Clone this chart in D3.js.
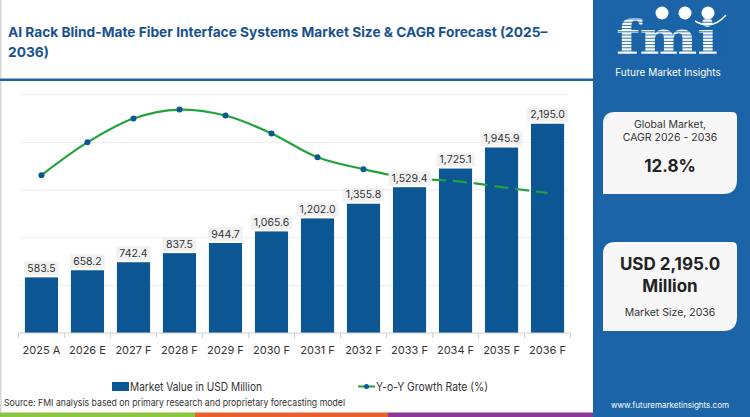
<!DOCTYPE html>
<html>
<head>
<meta charset="utf-8">
<script src="https://cdn.jsdelivr.net/npm/d3@7"></script>
<style>
  body { margin: 0; background: #fff; }
  svg { display: block; font-family: "Inter", "Noto Sans", sans-serif; }
</style>
</head>
<body>
<div id="chart"></div>
<script>
// chart data
var years = ["2025 A", "2026 E", "2027 F", "2028 F", "2029 F", "2030 F", "2031 F", "2032 F", "2033 F", "2034 F", "2035 F", "2036 F"];
var marketValue = [583.5, 658.2, 742.4, 837.5, 944.7, 1065.6, 1202.0, 1355.8, 1529.4, 1725.1, 1945.9, 2195.0];
var yoyGrowth = [13.3, 14.4, 15.2, 15.5, 15.3, 14.7, 13.9, 13.5, 13.2, 13.1, 12.9, 12.7];
var valueTicks = [0, 500, 1000, 1500, 2000, 2500];
var forecastFrom = "2033 F"; // line turns dashed after this year

var svgWidth = 750;
var svgHeight = 417;

var blue = "#0c5793";
var panelBlue = "#1a64a7";
var green = "#1fa33a";

var svg = d3.select("#chart")
  .append("svg")
  .attr("width", svgWidth)
  .attr("height", svgHeight);

// scales
var xScale = d3.scaleBand()
  .domain(years)
  .range([18, 571])
  .paddingInner(0.28)
  .paddingOuter(0.15);

var yScale = d3.scaleLinear()
  .domain([0, 2500])
  .range([333, 94.7]);

var yGrowth = d3.scaleLinear()
  .domain([8, 16])
  .range([333, 94.7]);

// title, sized so the first line ends near x=548
var title = svg.append("g").attr("fill", "#18528e").attr("font-weight", 700).attr("font-size", 17);
var t1 = title.append("text").attr("x", 8).attr("y", 37)
  .text("AI Rack Blind-Mate Fiber Interface Systems Market Size & CAGR Forecast (2025–");
var t2 = title.append("text").attr("x", 8).attr("y", 57).text("2036)");
var natural = t1.node().getComputedTextLength();
if (natural > 540) {
  var fs = 17 * 540 / natural;
  title.attr("font-size", fs);
}

// frame lines
svg.append("rect").attr("x", 0).attr("y", 0).attr("width", 1.5).attr("height", 413).attr("fill", "#d6d6d6");
svg.append("rect").attr("x", 0).attr("y", 78.5).attr("width", 593).attr("height", 2.5).attr("fill", panelBlue);

// gridlines
svg.append("g")
  .selectAll("line")
  .data(valueTicks.slice(1))
  .enter()
  .append("line")
  .attr("x1", 20).attr("x2", 568)
  .attr("y1", d => yScale(d)).attr("y2", d => yScale(d))
  .attr("stroke", "#ededed")
  .attr("stroke-width", 1);

// bars
svg.append("g")
  .selectAll("rect")
  .data(marketValue)
  .enter()
  .append("rect")
  .attr("x", (d, i) => xScale(years[i]))
  .attr("y", d => yScale(d))
  .attr("width", xScale.bandwidth())
  .attr("height", d => yScale(0) - yScale(d))
  .attr("fill", blue);

// x axis
var step = xScale.step();
var axisG = svg.append("g");
axisG.append("line")
  .attr("x1", xScale(years[0]) - xScale.step() * xScale.paddingOuter())
  .attr("x2", xScale(years[years.length - 1]) + xScale.bandwidth() + xScale.step() * xScale.paddingOuter())
  .attr("y1", yScale(0)).attr("y2", yScale(0))
  .attr("stroke", "#d0d0d0");
axisG.selectAll("line.tick")
  .data(years.concat(["end"]))
  .enter()
  .append("line")
  .attr("class", "tick")
  .attr("x1", (d, i) => xScale(years[0]) + xScale.bandwidth() / 2 - step / 2 + i * step)
  .attr("x2", (d, i) => xScale(years[0]) + xScale.bandwidth() / 2 - step / 2 + i * step)
  .attr("y1", yScale(0)).attr("y2", yScale(0) + 5)
  .attr("stroke", "#d0d0d0");
axisG.selectAll("text")
  .data(years)
  .enter()
  .append("text")
  .attr("x", d => xScale(d) + xScale.bandwidth() / 2)
  .attr("y", 354)
  .attr("text-anchor", "middle")
  .attr("font-size", 11)
  .attr("fill", "#333")
  .text(d => d);

// growth line, solid then dashed for forecast years
var splitX = xScale(forecastFrom) + xScale.bandwidth() / 2 + 20;
var defs = svg.append("defs");
defs.append("clipPath").attr("id", "clipSolid")
  .append("rect").attr("x", 0).attr("y", 0).attr("width", splitX).attr("height", svgHeight);
defs.append("clipPath").attr("id", "clipDash")
  .append("rect").attr("x", splitX).attr("y", 0).attr("width", svgWidth - splitX).attr("height", svgHeight);

var line = d3.line()
  .x((d, i) => xScale(years[i]) + xScale.bandwidth() / 2)
  .y(d => yGrowth(d))
  .curve(d3.curveCatmullRom.alpha(0.5));

svg.append("path")
  .datum(yoyGrowth)
  .attr("d", line)
  .attr("fill", "none")
  .attr("stroke", green)
  .attr("stroke-width", 2.2)
  .attr("clip-path", "url(#clipSolid)");

svg.append("path")
  .datum(yoyGrowth)
  .attr("d", line)
  .attr("fill", "none")
  .attr("stroke", green)
  .attr("stroke-width", 2.2)
  .attr("stroke-dasharray", "14,7")
  .attr("clip-path", "url(#clipDash)");

var lastDot = years.indexOf(forecastFrom);
svg.append("g")
  .selectAll("circle")
  .data(yoyGrowth.slice(0, lastDot))
  .enter()
  .append("circle")
  .attr("cx", (d, i) => xScale(years[i]) + xScale.bandwidth() / 2)
  .attr("cy", d => yGrowth(d))
  .attr("r", 3)
  .attr("fill", blue);

// value labels
var labels = svg.append("g")
  .selectAll("g")
  .data(marketValue)
  .enter()
  .append("g")
  .attr("transform", (d, i) => `translate(${xScale(years[i]) + xScale.bandwidth() / 2}, ${yScale(d) - 9})`);

labels.append("text")
  .attr("text-anchor", "middle")
  .attr("dy", "0.35em")
  .attr("font-size", 10.5)
  .attr("fill", "#333")
  .text(d => d3.format(",.1f")(d));

labels.each(function() {
  var g = d3.select(this);
  var bb = g.select("text").node().getBBox();
  g.insert("rect", "text")
    .attr("x", bb.x - 3)
    .attr("y", -7)
    .attr("width", bb.width + 6)
    .attr("height", 14)
    .attr("fill", "#f1f1f1");
});

// legend
var legend = svg.append("g").attr("font-size", 11.5).attr("fill", "#333");
legend.append("rect").attr("x", 112).attr("y", 382).attr("width", 17).attr("height", 9).attr("fill", blue);
legend.append("text").attr("x", 130).attr("y", 391)
  .attr("textLength", 132).attr("lengthAdjust", "spacingAndGlyphs")
  .text("Market Value in USD Million");
legend.append("line").attr("x1", 358).attr("x2", 375).attr("y1", 386.5).attr("y2", 386.5)
  .attr("stroke", green).attr("stroke-width", 2);
legend.append("circle").attr("cx", 366.5).attr("cy", 386.5).attr("r", 2.5).attr("fill", blue);
legend.append("text").attr("x", 376).attr("y", 391)
  .attr("textLength", 112).attr("lengthAdjust", "spacingAndGlyphs")
  .text("Y-o-Y Growth Rate (%)");

// source
svg.append("text")
  .attr("x", 4).attr("y", 406)
  .attr("font-size", 9.5)
  .attr("fill", "#333")
  .attr("textLength", 341).attr("lengthAdjust", "spacingAndGlyphs")
  .text("Source: FMI analysis based on primary research and proprietary forecasting model");

// bottom colour strip
var strip = [["#8cc63f", 0, 195], ["#e8612c", 195, 388], ["#8b3a98", 388, 593]];
svg.append("g").selectAll("rect")
  .data(strip)
  .enter()
  .append("rect")
  .attr("x", d => d[1]).attr("y", 412.5)
  .attr("width", d => d[2] - d[1]).attr("height", 4.5)
  .attr("fill", d => d[0]);

// right panel
var panel = svg.append("g");
panel.append("rect").attr("x", 593).attr("y", 0).attr("width", 157).attr("height", svgHeight).attr("fill", panelBlue);

// logo
var logo = panel.append("g");
logo.append("text")
  .attr("x", 667).attr("y", 54)
  .attr("text-anchor", "middle")
  .attr("font-family", "DejaVu Serif")
  .attr("font-weight", 700)
  .attr("font-size", 46)
  .attr("fill", "#fff")
  .attr("textLength", 102)
  .attr("lengthAdjust", "spacingAndGlyphs")
  .text("fmi");
d3.range(19, 56, 3.2).forEach(function(yy) {
  logo.append("line").attr("x1", 612).attr("x2", 725).attr("y1", yy).attr("y2", yy)
    .attr("stroke", panelBlue).attr("stroke-width", 0.9);
});
[[662, 13], [685, 13], [708, 13]].forEach(function(c) {
  logo.append("circle").attr("cx", c[0]).attr("cy", c[1]).attr("r", 6.5).attr("fill", "#fff");
});
logo.append("path")
  .attr("d", "M695,21 Q712,31 726,15")
  .attr("fill", "none").attr("stroke", "#fff").attr("stroke-width", 1.5);
logo.append("text")
  .attr("x", 668).attr("y", 76)
  .attr("text-anchor", "middle")
  .attr("font-size", 10)
  .attr("fill", "#fff")
  .text("Future Market Insights");

// cards
function card(y0, h) {
  var x0 = 603, w = 134;
  var p = d3.path();
  p.moveTo(x0, y0 + 12);
  p.quadraticCurveTo(x0, y0, x0 + 12, y0);
  p.lineTo(x0 + w - 5, y0);
  p.quadraticCurveTo(x0 + w, y0, x0 + w, y0 + 5);
  p.lineTo(x0 + w, y0 + h - 14);
  p.quadraticCurveTo(x0 + w, y0 + h, x0 + w - 14, y0 + h);
  p.lineTo(x0, y0 + h);
  p.closePath();
  panel.append("path").attr("d", p.toString()).attr("fill", "#f7f7f7");
}
card(112, 82);
card(242, 89);

var cards = panel.append("g").attr("text-anchor", "middle").attr("fill", "#222");
cards.append("text").attr("x", 670).attr("y", 127.5).attr("font-size", 10.5).attr("fill", "#333").text("Global Market,");
cards.append("text").attr("x", 670).attr("y", 140.5).attr("font-size", 10.5).attr("fill", "#333").text("CAGR 2026 - 2036");
cards.append("text").attr("x", 670).attr("y", 172).attr("font-size", 17).attr("font-weight", 700).text("12.8%");
cards.append("text").attr("x", 670).attr("y", 270).attr("font-size", 17).attr("font-weight", 700).text("USD 2,195.0");
cards.append("text").attr("x", 670).attr("y", 292).attr("font-size", 17).attr("font-weight", 700).text("Million");
cards.append("text").attr("x", 670).attr("y", 316).attr("font-size", 10.5).attr("fill", "#333").text("Market Size, 2036");

panel.append("text")
  .attr("x", 670).attr("y", 408)
  .attr("text-anchor", "middle")
  .attr("font-size", 8)
  .attr("fill", "#fff")
  .text("www.futuremarketinsights.com");
</script>
</body>
</html>
